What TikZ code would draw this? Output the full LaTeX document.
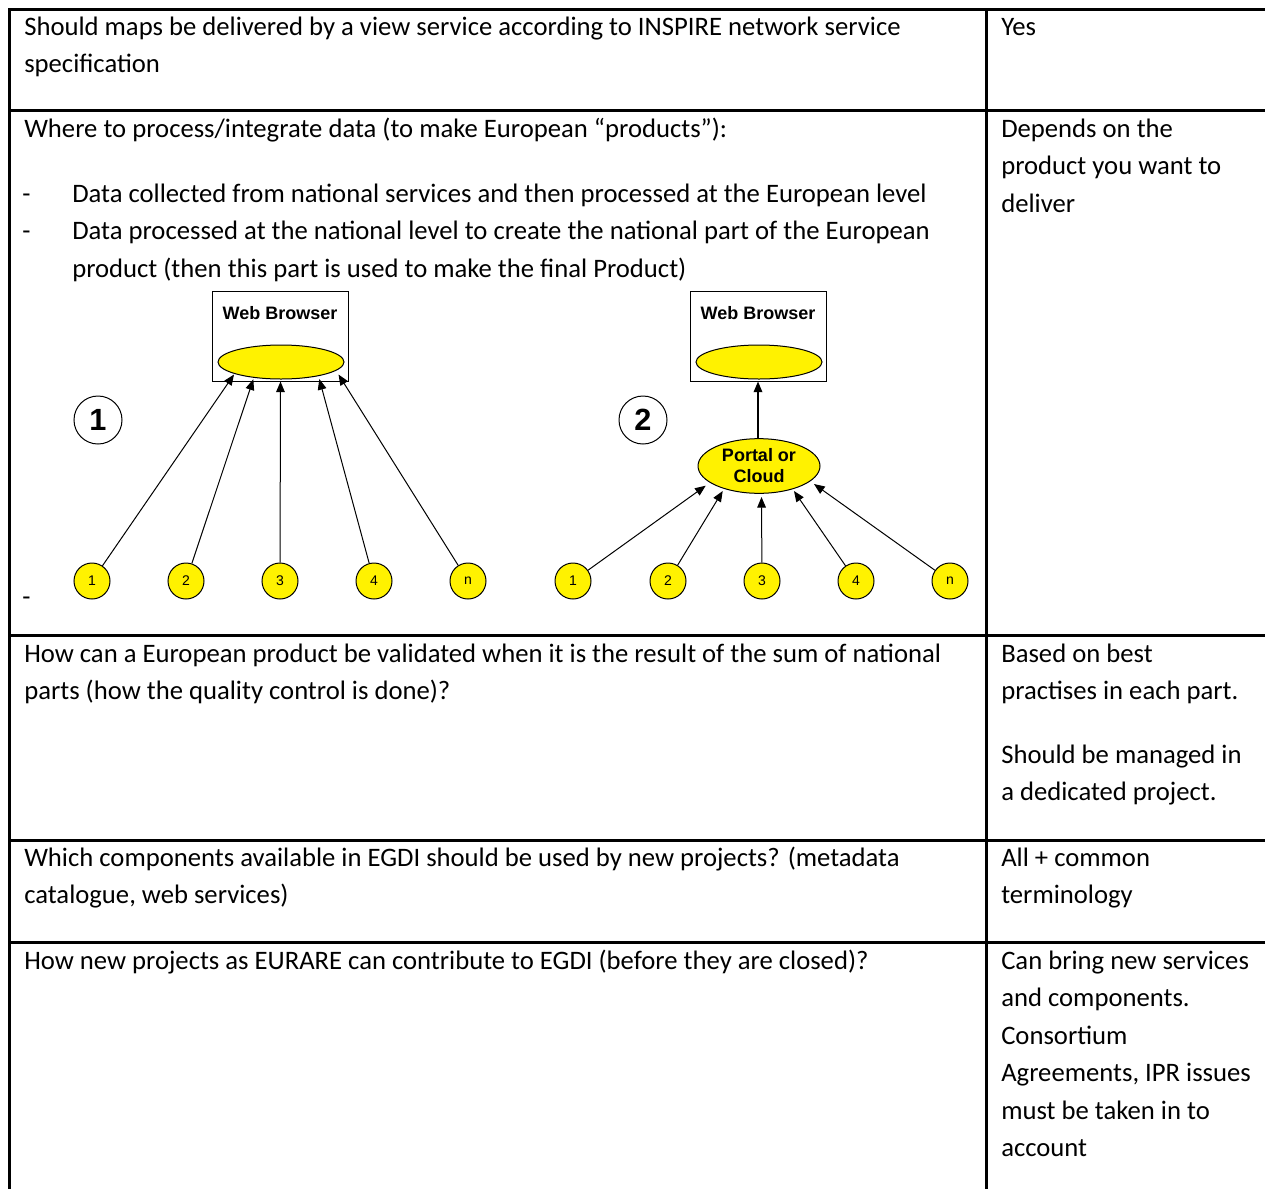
\documentclass[tikz,border=0pt]{standalone}
\usepackage{fontspec}
\setmainfont{Carlito}
\newfontfamily\diagfont{Liberation Sans}
\usetikzlibrary{shapes.geometric,arrows.meta}

\begin{document}
\begin{tikzpicture}[x=0.75pt,y=-0.75pt,
  txt/.style={anchor=base west,inner sep=0pt,font=\fontsize{20}{24}\selectfont},
  rule/.style={line width=1.6pt,line cap=rect},
  box/.style={draw,line width=0.75pt,fill=white,minimum width=102pt,minimum height=67.5pt,inner sep=0pt},
  boxlabel/.style={inner sep=0pt,font=\diagfont\bfseries\fontsize{13.5}{15.75}\selectfont},
  yell/.style={draw,line width=0.75pt,fill=yellow,ellipse,inner sep=0pt},
  bigc/.style={draw,line width=0.75pt,circle,minimum size=36pt,inner sep=0pt,font=\diagfont\bfseries\fontsize{23}{27}\selectfont},
  smallc/.style={draw,line width=0.75pt,fill=yellow,circle,minimum size=27pt,inner sep=0pt,font=\diagfont\fontsize{10.5}{12}\selectfont},
  arr/.style={-{Triangle[length=8pt,width=6.5pt]},line width=0.75pt}]
\useasboundingbox (0,0) rectangle (1265,1189);

% table rules
\draw[rule] (9.5,1195) -- (9.5,9.5) -- (1270,9.5);
\draw[rule] (9.5,110.5) -- (1270,110.5);
\draw[rule] (9.5,635.5) -- (1270,635.5);
\draw[rule] (9.5,840.5) -- (1270,840.5);
\draw[rule] (9.5,942.5) -- (1270,942.5);
\draw[rule] (986.5,9.5) -- (986.5,1195);

% row 1
\node[txt] (q1a) at (24,35) {Should maps be delivered by a view service according to INSPIRE network service};
\node[txt] (q1b) at (24,72.5) {specification};
\node[txt] (a1a) at (1001,35) {Yes};

% row 2
\node[txt] (q2a) at (24,137) {Where to process/integrate data (to make European “products”):};
\node[txt] (q2d1) at (22,202) {-};
\node[txt] (q2b) at (72,202) {Data collected from national services and then processed at the European level};
\node[txt] (q2d2) at (22,239.5) {-};
\node[txt] (q2c) at (72,239.5) {Data processed at the national level to create the national part of the European};
\node[txt] (q2e) at (72,277) {product (then this part is used to make the final Product)};
\node[txt] (q2d3) at (22,605) {-};
\node[txt] (a2a) at (1001,137) {Depends on the};
\node[txt] (a2b) at (1001,174.5) {product you want to};
\node[txt] (a2c) at (1001,212) {deliver};

% diagram 1: sources linked straight to the browser
\node[box] (wb1) at (280,336) {};
\node[boxlabel] (wbt1) at (280,313) {Web Browser};
\node[yell,minimum width=94.5pt,minimum height=25.5pt] (el1) at (281,362) {};
\node[bigc] (big1) at (98,420) {1};
\foreach \i/\x/\t in {1/92/1,2/186/2,3/280/3,4/374/4,5/468/n}
  \node[smallc] (s\i) at (\x,581) {\t};
\coordinate (t1) at (234,374.5);
\coordinate (t2) at (253.3,379.3);
\coordinate (t3) at (280.5,381.5);
\coordinate (t4) at (319.3,379);
\coordinate (t5) at (338.5,374.5);
\foreach \i in {1,...,5}
  \draw[arr] (s\i) -- (t\i);

% diagram 2: sources gathered by a portal or cloud
\node[box] (wb2) at (758,336) {};
\node[boxlabel] (wbt2) at (758,313) {Web Browser};
\node[yell,minimum width=94.5pt,minimum height=25.5pt] (el2) at (759,362) {};
\node[bigc] (big2) at (643,420) {2};
\node[yell,minimum width=91.5pt,minimum height=41pt,align=center,
      font=\diagfont\bfseries\fontsize{13.5}{15.75}\selectfont] (portal) at (759,466) {Portal or\\Cloud};
\foreach \i/\x/\t in {1/573/1,2/668/2,3/762/3,4/856/4,5/950/n}
  \node[smallc] (r\i) at (\x,581) {\t};
\coordinate (u1) at (705.7,485.7);
\coordinate (u2) at (722.7,491);
\coordinate (u3) at (761.5,497);
\coordinate (u4) at (794,491);
\coordinate (u5) at (814,484);
\foreach \i in {1,...,5}
  \draw[arr] (r\i) -- (u\i);
\draw[arr,line width=1pt] (portal.north -| wb2) -- (wb2.south);

% row 3
\node[txt] (q3a) at (24,662) {How can a European product be validated when it is the result of the sum of national};
\node[txt] (q3b) at (24,699.5) {parts (how the quality control is done)?};
\node[txt] (a3a) at (1001,662) {Based on best};
\node[txt] (a3b) at (1001,699.5) {practises in each part.};
\node[txt] (a3c) at (1001,763) {Should be managed in};
\node[txt] (a3d) at (1001,800.5) {a dedicated project.};

% row 4
\node[txt] (q4a) at (24,866) {Which components available in EGDI should be used by new projects? (metadata};
\node[txt] (q4b) at (24,903.5) {catalogue, web services)};
\node[txt] (a4a) at (1001,866) {All + common};
\node[txt] (a4b) at (1001,903.5) {terminology};

% row 5
\node[txt] (q5a) at (24,969) {How new projects as EURARE can contribute to EGDI (before they are closed)?};
\node[txt] (a5a) at (1001,969) {Can bring new services};
\node[txt] (a5b) at (1001,1006.5) {and components.};
\node[txt] (a5c) at (1001,1044) {Consortium};
\node[txt] (a5d) at (1001,1081.5) {Agreements, IPR issues};
\node[txt] (a5e) at (1001,1119) {must be taken in to};
\node[txt] (a5f) at (1001,1156.5) {account};
\end{tikzpicture}
\end{document}
